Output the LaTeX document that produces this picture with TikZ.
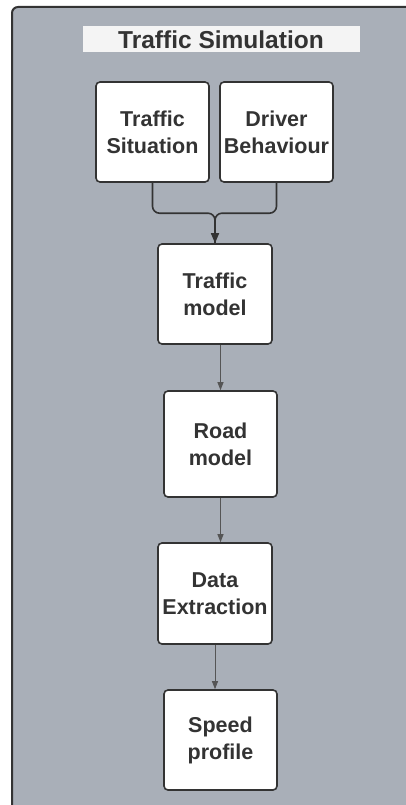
\documentclass[tikz,border=0pt]{standalone}
\usepackage{fontspec}
\setmainfont{Liberation Sans}
\usetikzlibrary{arrows.meta}
\usetikzlibrary{calc}

\definecolor{panelgray}{HTML}{A9AFB8}
\definecolor{inkgray}{HTML}{333333}
\definecolor{wiregray}{HTML}{555555}
\definecolor{titlebg}{HTML}{F4F4F4}

\tikzset{
    block/.style={draw=inkgray, fill=white, line width=1.6pt, rounded corners=4pt,
        minimum width=113pt, minimum height=100pt, inner sep=0pt, align=center,
        text=inkgray, font=\fontsize{21.5}{27}\selectfont\bfseries},
    merge/.style={draw=inkgray, line width=1.6pt, rounded corners=7pt},
    flow/.style={draw=wiregray, line width=0.9pt, -{Triangle[length=8pt,width=6pt]}}
}

\begin{document}
\begin{tikzpicture}[x=1pt,y=-1pt]
        \useasboundingbox (0,0) rectangle (406,805);
        \begin{scope}
            \clip (0,0) rectangle (406,805);
            \draw[fill=panelgray, draw=inkgray, line width=2pt, rounded corners=6pt] (12,7) rectangle (440,840);
        \end{scope}

        % title bar
        \fill[titlebg] (83,26) rectangle (360,52);
        \node[text=inkgray, font=\fontsize{24.5}{28}\selectfont\bfseries] (title) at (221,40) {Traffic Simulation};

        % blocks
        \node[block] (sit) at (152.5,132) {Traffic\\Situation};
        \node[block] (drv) at (276.5,132) {Driver\\Behaviour};
        \node[block, minimum width=114pt] (tmodel) at (215,294) {Traffic\\model};
        \node[block, minimum height=106pt] (rmodel) at (220.5,444) {Road\\model};
        \node[block, minimum width=114pt, minimum height=101pt] (extr) at (215,593.5) {Data\\Extraction};
        \node[block] (speed) at (220.5,740) {Speed\\profile};

        % connectors
        \coordinate (join) at ($(tmodel.north)+(0,-30)$);
        \draw[merge] (drv.south) |- (join) -- (tmodel.north);
        \draw[merge, -{Triangle[length=10pt,width=8pt]}] (sit.south) |- (join) -- (tmodel.north);
        \draw[flow] (tmodel.south -| rmodel.north) -- (rmodel.north);
        \draw[flow] (rmodel.south) -- (rmodel.south |- extr.north);
        \draw[flow] (extr.south) -- (extr.south |- speed.north);
    \end{tikzpicture}
\end{document}
